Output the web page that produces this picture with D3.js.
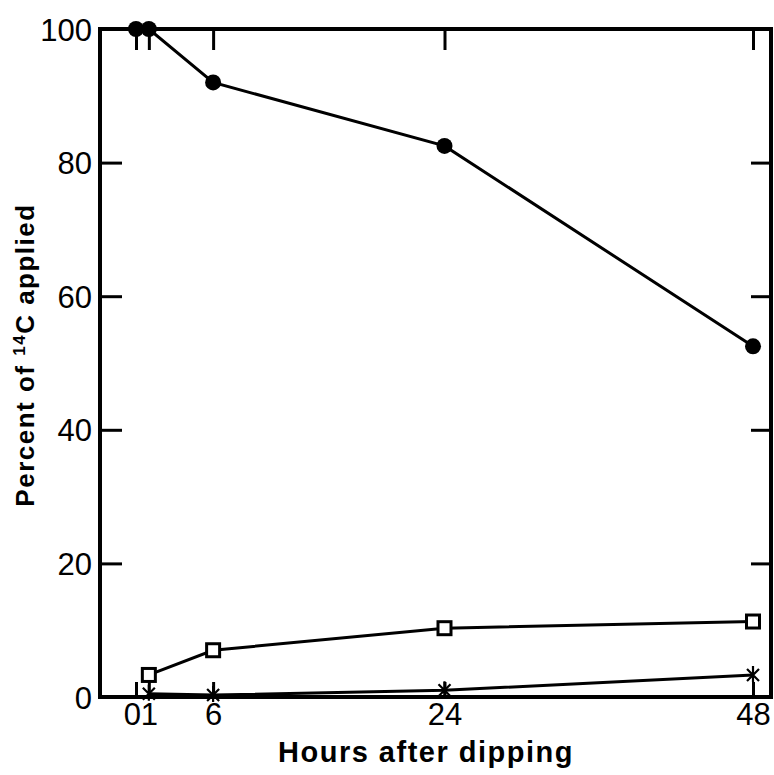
<!DOCTYPE html>
<html>
<head>
<meta charset="utf-8">
<script src="https://cdn.jsdelivr.net/npm/d3@7"></script>
<style>
  body { margin: 0; background: #fff; }
  text { font-family: "Liberation Sans", Arial, sans-serif; fill: #000; }
</style>
</head>
<body>
<div id="chart"></div>
<script>
// hours after dipping
const hoursCircle = [0, 1, 6, 24, 48];
const pctCircle = [100, 100, 92, 82.5, 52.5];
const hoursSquare = [1, 6, 24, 48];
const pctSquare = [3.3, 7, 10.3, 11.3];
const hoursCross = [1, 6, 24, 48];
const pctCross = [0.5, 0.3, 1, 3.3];

const xTicks = [0, 1, 6, 24, 48];
const xTickLabels = ["0", "1", "6", "24", "48"];
const yTicks = [0, 20, 40, 60, 80, 100];

function drawSvg() {
  const width = 774;
  const height = 775;
  const left = 100, right = 771, top = 29, bottom = 697;

  let xScale = d3.scaleLinear().domain([-2.8, 49.4]).range([left, right]);
  let yScale = d3.scaleLinear().domain([0, 100]).range([bottom, top]);

  let svg = d3
    .select("#chart")
    .append("svg")
    .attr("width", width)
    .attr("height", height)
    .style("background-color", "#fff");

  // inward ticks on all four sides
  let yLeft = d3.axisLeft(yScale).tickValues(yTicks).tickSizeInner(-22).tickSizeOuter(0).tickPadding(8);
  let yRight = d3.axisRight(yScale).tickValues([20, 40, 60, 80]).tickSizeInner(-20).tickSizeOuter(0).tickFormat("");
  let xTop = d3.axisTop(xScale).tickValues(xTicks).tickSizeInner(-21).tickSizeOuter(0).tickFormat("");
  let xBottom = d3
    .axisBottom(xScale)
    .tickValues(xTicks)
    .tickSizeInner(-15)
    .tickSizeOuter(0)
    .tickPadding(6)
    .tickFormat((d, i) => xTickLabels[i]);

  let gl = svg.append("g").attr("transform", "translate(" + left + ",0)").call(yLeft);
  let gr = svg.append("g").attr("transform", "translate(" + right + ",0)").call(yRight);
  let gt = svg.append("g").attr("transform", "translate(0," + top + ")").call(xTop);
  let gb = svg.append("g").attr("transform", "translate(0," + bottom + ")").call(xBottom);

  [gl, gr, gt, gb].forEach((g) => {
    g.select(".domain").remove();
    g.selectAll(".tick line").attr("stroke", "#000").attr("stroke-width", 3);
    g.selectAll(".tick text").style("font-size", "31px").attr("fill", "#000");
  });
  gl.selectAll(".tick text").attr("dy", "0.36em");
  gb.selectAll(".tick text").attr("dy", "0.72em");
  // 0 and 1 sit close together, nudge apart like the original
  gb.selectAll(".tick text").filter((d) => d === 0).attr("dx", -4);

  // frame
  svg
    .append("rect")
    .attr("x", left)
    .attr("y", top)
    .attr("width", right - left)
    .attr("height", bottom - top)
    .attr("fill", "none")
    .attr("stroke", "#000")
    .attr("stroke-width", 4);

  let line = d3
    .line()
    .x((d) => xScale(d[0]))
    .y((d) => yScale(d[1]));

  let circleData = hoursCircle.map((h, i) => [h, pctCircle[i]]);
  let squareData = hoursSquare.map((h, i) => [h, pctSquare[i]]);
  let crossData = hoursCross.map((h, i) => [h, pctCross[i]]);

  [circleData, squareData, crossData].forEach((data) => {
    svg
      .append("path")
      .datum(data)
      .attr("d", line)
      .attr("fill", "none")
      .attr("stroke", "#000")
      .attr("stroke-width", 3);
  });

  svg
    .selectAll(".dot")
    .data(circleData)
    .enter()
    .append("circle")
    .attr("class", "dot")
    .attr("cx", (d) => xScale(d[0]))
    .attr("cy", (d) => yScale(d[1]))
    .attr("r", 8)
    .attr("fill", "#000");

  svg
    .selectAll(".sq")
    .data(squareData)
    .enter()
    .append("rect")
    .attr("class", "sq")
    .attr("x", (d) => xScale(d[0]) - 6.5)
    .attr("y", (d) => yScale(d[1]) - 6.5)
    .attr("width", 13)
    .attr("height", 13)
    .attr("fill", "#fff")
    .attr("stroke", "#000")
    .attr("stroke-width", 3);

  svg
    .selectAll(".cross")
    .data(crossData)
    .enter()
    .append("path")
    .attr("class", "cross")
    .attr("transform", (d) => "translate(" + xScale(d[0]) + "," + yScale(d[1]) + ")")
    .attr("d", "M-6,-6L6,6M-6,6L6,-6M0,-9L0,7")
    .attr("fill", "none")
    .attr("stroke", "#000")
    .attr("stroke-width", 2.2);

  svg
    .append("text")
    .attr("x", 426)
    .attr("y", 762)
    .attr("text-anchor", "middle")
    .style("font-size", "29px")
    .style("font-weight", "bold")
    .style("letter-spacing", "1.5px")
    .text("Hours after dipping");

  let yl = svg
    .append("text")
    .attr("transform", "translate(34,355) rotate(-90)")
    .attr("text-anchor", "middle")
    .style("font-size", "26px")
    .style("font-weight", "bold")
    .style("letter-spacing", "1.5px");
  yl.append("tspan").text("Percent of ");
  yl.append("tspan").attr("baseline-shift", "super").style("font-size", "17px").text("14");
  yl.append("tspan").text("C applied");
}

drawSvg();
</script>
</body>
</html>
